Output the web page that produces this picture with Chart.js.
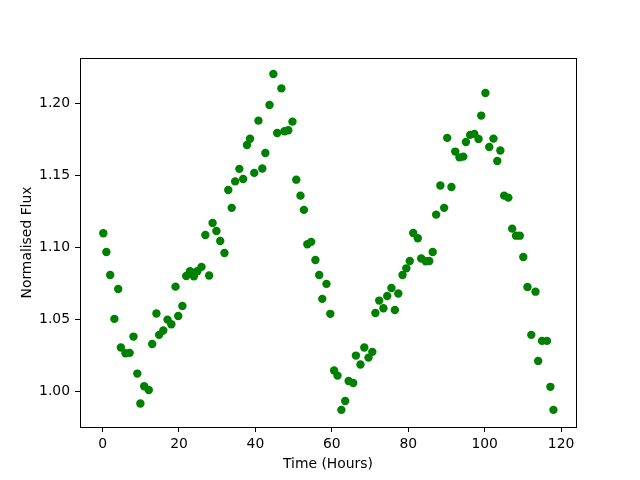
<!DOCTYPE html>
<html>
<head>
<meta charset="utf-8">
<script src="https://cdn.jsdelivr.net/npm/chart.js@4"></script>
<style>
  html, body { margin: 0; padding: 0; background: #fff; }
  #wrap { width: 640px; height: 480px; }
</style>
</head>
<body>
<div id="wrap"><canvas id="myChart" width="640" height="480"></canvas></div>
<script>
// time (hours)
const hours = [
  0.2, 1.0, 2.0, 3.1, 4.1, 4.8, 6.0, 7.1, 8.1, 9.1,
  9.9, 10.9, 12.1, 13.0, 14.1, 14.8, 15.9, 17.0, 18.0, 19.1,
  19.8, 20.9, 21.9, 22.9, 23.9, 24.8, 25.9, 26.9, 27.9, 28.8,
  29.8, 30.8, 31.9, 32.9, 33.8, 34.7, 35.8, 36.8, 37.8, 38.6,
  39.7, 40.8, 41.8, 42.6, 43.7, 44.7, 45.7, 46.8, 47.6, 48.6,
  49.7, 50.7, 51.8, 52.7, 53.6, 54.6, 55.7, 56.7, 57.5, 58.6,
  59.6, 60.6, 61.5, 62.5, 63.5, 64.4, 65.6, 66.3, 67.5, 68.5,
  69.6, 70.6, 71.4, 72.4, 73.5, 74.5, 75.6, 76.5, 77.4, 78.5,
  79.5, 80.4, 81.3, 82.5, 83.4, 84.6, 85.5, 86.4, 87.3, 88.4,
  89.4, 90.2, 91.3, 92.3, 93.4, 94.4, 95.1, 96.2, 97.3, 98.4,
  99.1, 100.2, 101.2, 102.3, 103.3, 104.1, 105.1, 106.2, 107.2, 108.2,
  109.2, 110.1, 111.2, 112.2, 113.3, 114.0, 115.0, 116.3, 117.2, 118.0
];
const flux = [
  1.110, 1.097, 1.081, 1.0505, 1.0713, 1.0306, 1.0266, 1.0269, 1.0382, 1.0125,
  0.9917, 1.0037, 1.0011, 1.0331, 1.0542, 1.0394, 1.0424, 1.0500, 1.0468, 1.0729,
  1.0525, 1.0595, 1.0803, 1.0836, 1.0801, 1.0836, 1.0866, 1.1088, 1.0806, 1.1171,
  1.1116, 1.1046, 1.0963, 1.1400, 1.1276, 1.1460, 1.1547, 1.1477, 1.1713, 1.1756,
  1.1519, 1.1882, 1.1549, 1.1657, 1.1991, 1.2206, 1.1796, 1.2106, 1.1808, 1.1815,
  1.1875, 1.1472, 1.1361, 1.1262, 1.1023, 1.1040, 1.0914, 1.0810, 1.0644, 1.0748,
  1.0540, 1.0146, 1.0111, 0.9873, 0.9935, 1.0074, 1.0060, 1.0250, 1.0188, 1.0306,
  1.0236, 1.0276, 1.0546, 1.0632, 1.0579, 1.0664, 1.0720, 1.0567, 1.0681, 1.0810,
  1.0856, 1.0907, 1.1102, 1.1065, 1.0924, 1.0905, 1.0907, 1.0970, 1.1229, 1.1431,
  1.1276, 1.1762, 1.1421, 1.1667, 1.1627, 1.1632, 1.1734, 1.1783, 1.1790, 1.1755,
  1.1917, 1.2074, 1.1699, 1.1757, 1.1602, 1.1674, 1.1361, 1.1347, 1.1132, 1.1083,
  1.1083, 1.0935, 1.0727, 1.0394, 1.0694, 1.0213, 1.0352, 1.0352, 1.0033, 0.9873
];
const xTicks = [0, 20, 40, 60, 80, 100, 120];
const yTicks = [1.00, 1.05, 1.10, 1.15, 1.20];

const points = hours.map((h, i) => ({ x: h, y: flux[i] }));
const font = { family: 'DejaVu Sans', size: 13.9 };

// matplotlib style box round the plot area
const boxPlugin = {
  id: 'box',
  afterDraw(chart) {
    const a = chart.chartArea;
    const ctx = chart.ctx;
    ctx.save();
    ctx.strokeStyle = '#000';
    ctx.lineWidth = 1;
    ctx.strokeRect(Math.round(a.left) + 0.5, Math.round(a.top) + 0.5,
      Math.round(a.right - a.left), Math.round(a.bottom - a.top));
    ctx.restore();
  }
};

new Chart(document.getElementById('myChart'), {
  type: 'scatter',
  data: {
    datasets: [{
      data: points,
      backgroundColor: '#008000',
      borderColor: '#008000',
      pointRadius: 4.2,
      pointHoverRadius: 4.2,
      borderWidth: 0
    }]
  },
  options: {
    responsive: false,
    animation: false,
    devicePixelRatio: 1,
    layout: { padding: { top: 58, right: 64, left: 0, bottom: 0 } },
    plugins: { legend: { display: false }, tooltip: { enabled: false } },
    scales: {
      x: {
        type: 'linear',
        min: -5.9,
        max: 123.9,
        afterBuildTicks: s => { s.ticks = xTicks.map(v => ({ value: v })); },
        afterFit: s => { s.height = 53; },
        grid: { drawOnChartArea: false, drawTicks: true, tickLength: 5, color: '#000' },
        border: { display: true, color: '#000' },
        ticks: { color: '#000', font: font, padding: 4, maxRotation: 0, callback: v => v },
        title: { display: true, text: 'Time (Hours)', color: '#000', font: font, padding: { bottom: 7 } }
      },
      y: {
        type: 'linear',
        min: 0.9754,
        max: 1.2317,
        afterBuildTicks: s => { s.ticks = yTicks.map(v => ({ value: v })); },
        afterFit: s => { s.width = 80; },
        grid: { drawOnChartArea: false, drawTicks: true, tickLength: 5, color: '#000' },
        border: { display: true, color: '#000' },
        ticks: { color: '#000', font: font, padding: 5, callback: v => v.toFixed(2) },
        title: { display: true, text: 'Normalised Flux', color: '#000', font: font, padding: { top: 19 } }
      }
    }
  },
  plugins: [boxPlugin]
});
</script>
</body>
</html>
